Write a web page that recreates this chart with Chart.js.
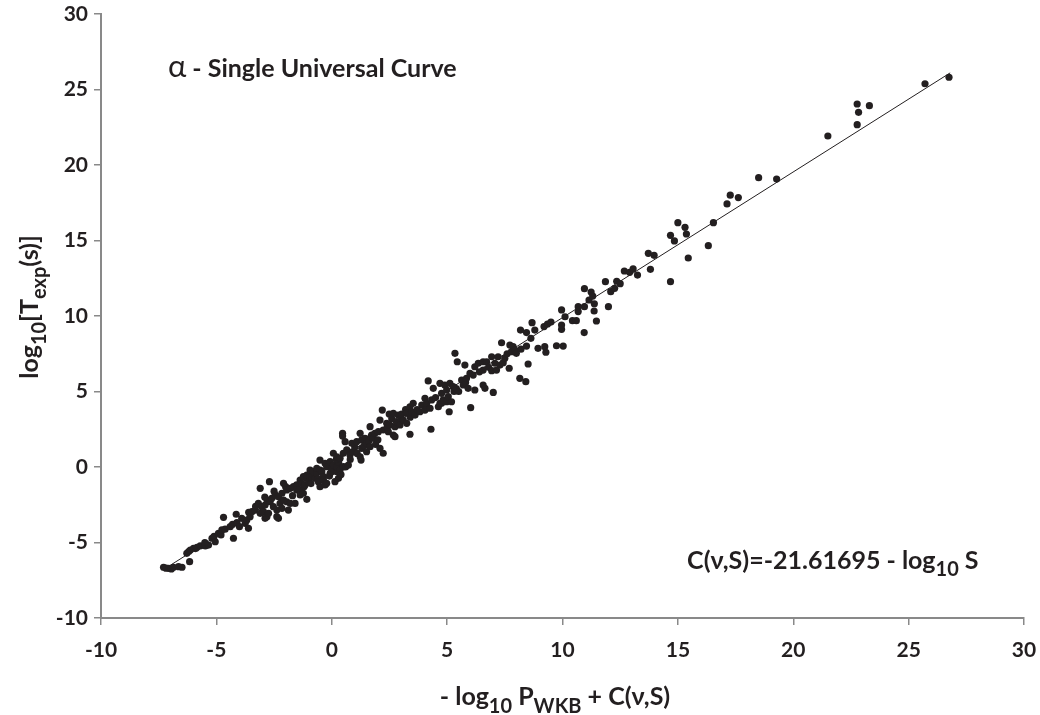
<!DOCTYPE html>
<html>
<head>
<meta charset="utf-8">
<title>alpha - Single Universal Curve</title>
<script src="https://cdn.jsdelivr.net/npm/chart.js@4.4.1/dist/chart.umd.min.js"></script>
<style>
  html, body { margin: 0; padding: 0; background: #fff; }
  #wrap { width: 1040px; height: 715px; position: relative; }
</style>
</head>
<body>
<div id="wrap"><canvas id="mainChart"></canvas></div>
<script>
// measured points: [-log10 P_WKB + C(v,S), log10 T_exp(s)]
const alphaPoints = [
  // bottom left
  [-7.29,-6.64],[-7.18,-6.70],[-7.07,-6.71],[-6.95,-6.75],[-6.86,-6.64],[-6.64,-6.60],[-6.49,-6.64],[-6.16,-6.27],
  [-6.28,-5.72],[-6.20,-5.60],[-6.13,-5.50],[-5.99,-5.38],[-5.90,-5.40],[-5.84,-5.32],[-5.70,-5.23],[-5.48,-5.23],
  [-5.34,-5.17],[-5.50,-5.00],[-5.19,-4.72],[-5.10,-4.60],[-5.05,-4.95],[-4.91,-4.39],[-4.80,-4.50],[-4.76,-4.17],
  [-4.62,-4.12],[-4.26,-4.72],[-4.69,-3.33],[-4.40,-3.95],[-4.30,-3.80],[-4.14,-3.13],[-4.11,-3.69],[-4.00,-3.95],
  [-3.90,-3.40],[-3.75,-3.73],[-3.61,-4.06],[-3.68,-3.51],[-3.60,-3.00],[-3.54,-3.29],[-3.46,-2.96],[-3.32,-2.85],
  [-3.30,-2.60],[-3.18,-2.40],[-3.10,-3.07],[-3.03,-2.63],[-2.96,-2.96],[-2.89,-2.52],[-2.89,-3.40],[-2.81,-3.29],
  [-2.74,-3.07],[-2.38,-3.29],[-2.31,-3.40],[-2.70,-0.97],[-3.10,-1.41],[-2.90,-2.00],[-2.80,-2.20],[-2.67,-2.30],
  [-2.60,-2.07],[-2.53,-2.63],[-2.50,-1.60],[-2.45,-1.85],[-2.38,-2.85],[-2.31,-1.97],[-2.24,-2.41],[-2.16,-1.74],
  [-2.16,-2.74],[-2.09,-2.19],[-2.09,-1.08],[-2.00,-1.30],[-1.95,-2.30],[-1.95,-1.52],[-1.88,-2.85],[-1.80,-2.41],
  [-1.80,-1.41],[-1.70,-1.90],[-1.66,-1.30],[-1.59,-2.41],[-1.52,-1.19],[-1.52,-1.52],[-1.40,-1.50],[-1.37,-1.85],
  // around zero
  [-1.37,-0.86],[-1.30,-1.08],[-1.23,-1.74],[-1.23,-0.64],[-1.20,-1.30],[-1.16,-1.19],[-1.08,-0.75],[-1.08,-0.53],
  [-1.08,-2.14],[-1.00,-1.00],[-0.94,-0.64],[-0.94,-0.20],[-0.90,-1.10],[-0.87,-0.64],[-0.80,-0.53],[-0.80,-0.31],
  [-0.72,-0.75],[-0.65,-0.42],[-0.65,-0.09],[-0.60,-0.80],[-0.58,-0.97],[-0.51,-1.30],[-0.51,0.46],[-0.50,-0.20],
  [-0.43,-0.31],[-0.36,-0.64],[-0.36,-0.86],[-0.29,-1.19],[-0.29,0.25],[-0.22,-1.08],[-0.22,0.02],[-0.10,-0.60],
  [-0.07,-0.42],[-0.07,0.35],[0.00,-0.31],[0.00,-0.10],[0.07,0.13],[0.14,-0.97],[0.22,-0.31],[0.22,0.02],
  [0.29,-0.75],[0.30,0.30],[0.36,-0.20],[0.40,-0.50],[0.50,0.02],[0.60,0.00],[0.72,0.13],[0.20,0.50],
  [0.07,0.91],[0.22,0.68],[0.36,0.58],[0.50,0.91],[0.65,1.13],[0.79,0.80],[0.80,0.50],[0.90,1.00],
  [1.00,1.30],[1.10,0.90],[1.23,0.68],[1.27,0.46],[0.47,2.23],[0.47,2.05],[0.58,1.68],[1.23,2.23],
  [0.87,1.57],[1.08,1.68],[1.30,1.79],[1.30,1.24],[1.40,1.40],[1.44,1.90],[1.51,1.57],[1.51,1.01],
  [1.60,1.70],[1.66,1.34],[1.66,2.67],[1.70,2.00],[1.73,2.12],[1.80,1.90],[1.87,2.23],[1.90,1.50],
  [2.00,1.80],[2.02,2.34],[2.09,1.24],[2.09,3.11],[2.19,3.77],[2.23,0.91],[2.23,2.45],[2.38,2.89],
  [2.40,2.60],[2.45,2.34],[2.49,3.51],[2.52,2.78],[2.60,3.20],[2.67,2.12],[2.67,3.56],[2.74,2.01],
  [2.74,2.67],[2.80,3.00],[2.88,3.44],[2.96,2.78],[3.00,3.20],[3.03,3.51],[3.10,3.11],[3.20,3.80],
  [3.25,2.89],[3.25,3.56],[3.39,2.17],[3.39,3.99],[3.40,3.30],[3.46,3.66],[3.53,4.22],[3.61,3.44],
  // middle
  [3.70,3.80],[3.82,3.66],[3.90,4.10],[4.04,3.77],[4.04,4.55],[4.11,3.99],[4.11,4.22],[4.18,5.70],
  [4.26,3.89],[4.30,2.50],[4.33,4.44],[4.40,5.21],[4.50,4.60],[4.62,3.99],[4.69,5.54],[4.69,4.22],
  [4.76,4.88],[4.76,4.22],[4.83,4.44],[4.90,5.43],[4.98,5.10],[4.98,4.32],[5.05,4.66],[5.09,3.66],
  [5.12,5.54],[5.19,4.32],[5.26,5.32],[5.30,5.00],[5.40,5.20],[5.50,5.00],[5.63,5.76],[5.70,5.43],
  [5.80,5.60],[5.84,5.87],[5.91,5.21],[5.99,6.20],[6.02,3.93],[6.13,6.09],[6.20,5.10],[6.56,5.43],
  [6.64,5.21],[5.34,7.53],[5.44,6.97],[5.77,6.75],[6.20,6.64],[6.35,6.87],[6.40,6.30],[6.56,6.97],
  [6.56,6.42],[6.71,6.97],[6.80,6.60],[6.93,7.30],[6.93,6.38],[7.00,4.94],[7.07,6.87],[7.14,6.42],
  [7.21,7.30],[7.29,6.75],[7.36,8.23],[7.43,6.91],[7.50,7.20],[7.60,7.50],[7.69,6.54],[7.72,8.08],
  [7.79,7.64],[7.86,7.97],[7.94,7.75],[8.00,7.53],[8.15,5.87],[8.18,9.07],[8.20,7.80],[8.41,5.65],
  [8.44,8.01],[8.44,8.90],[8.51,6.82],[8.63,8.52],[8.68,9.56],[8.80,9.07],[8.94,7.86],[9.20,9.30],
  [9.23,7.97],[9.28,7.60],[9.35,9.47],[9.50,9.60],[9.74,8.03],[9.96,9.12],[9.96,9.40],[9.96,10.40],
  [10.03,8.01],
  // upper right
  [10.11,9.95],[10.43,9.69],[10.60,9.69],[10.68,10.29],[10.68,10.62],[10.94,8.90],[10.95,10.62],[10.95,11.81],
  [11.15,11.06],[11.24,11.59],[11.31,11.32],[11.37,10.33],[11.38,10.81],[11.47,9.67],[11.86,12.27],[11.99,10.62],
  [12.09,11.61],[12.26,11.83],[12.35,12.30],[12.50,12.14],[12.68,12.98],[12.91,12.89],[13.06,13.13],[13.25,12.71],
  [13.72,14.15],[13.81,13.09],[13.97,14.02],[14.68,12.27],[14.68,15.34],[14.85,14.97],[15.00,16.18],[15.31,15.87],
  [15.37,15.43],[15.45,13.84],[16.32,14.66],[16.54,16.18],[17.13,17.42],[17.27,18.00],[17.62,17.84],[18.50,19.16],
  [19.28,19.07],[21.50,21.92],[22.77,24.04],[22.83,23.49],[22.77,22.67],[23.30,23.93],[25.71,25.38],[26.75,25.81]
];

// fitted line end points
const fitX = [-7.3, 26.8];
const fitY = [-6.8, 26.1];

const axisMin = -10;
const axisMax = 30;
const axisStep = 5;

const FONT = "Lato, 'DejaVu Sans', sans-serif";
const INK = "#231f20";
const AXIS = "#898989";

// text pieces: [text, kind]  kind: "" normal, "s" subscript, "g" greek
const titleRuns = [["\u03b1", "g"], [" - Single Universal Curve", ""]];
const noteRuns = [["C(\u03bd,S)=-21.61695 - log", ""], ["10", "s"], [" S", ""]];
const xTitleRuns = [["- log", ""], ["10", "s"], [" P", ""], ["WKB", "s"], [" + C(\u03bd,S)", ""]];
const yTitleRuns = [["log", ""], ["10", "s"], ["[T", ""], ["exp", "s"], ["(s)]", ""]];

function runFont(kind, size) {
  if (kind === "s") return "bold " + Math.round(size * 0.8) + "px " + FONT;
  if (kind === "g") return "normal " + Math.round(size * 1.25) + "px " + FONT;
  return "bold " + size + "px " + FONT;
}

function drawRich(ctx, runs, x, y, size, align) {
  let total = 0;
  const widths = runs.map(r => {
    ctx.font = runFont(r[1], size);
    const w = ctx.measureText(r[0]).width;
    total += w;
    return w;
  });
  let cx = align === "center" ? x - total / 2 : x;
  ctx.textAlign = "left";
  ctx.textBaseline = "alphabetic";
  ctx.fillStyle = INK;
  runs.forEach((r, i) => {
    ctx.font = runFont(r[1], size);
    const dy = r[1] === "s" ? size * 0.3 : 0;
    ctx.fillText(r[0], cx, y + dy);
    cx += widths[i];
  });
}

const textPlugin = {
  id: "textPlugin",
  afterDraw(chart) {
    const ctx = chart.ctx;
    const xs = chart.scales.x, ys = chart.scales.y;
    ctx.save();
    drawRich(ctx, titleRuns, xs.getPixelForValue(-7.1), ys.getPixelForValue(25.8), 25, "left");
    drawRich(ctx, noteRuns, xs.getPixelForValue(15.4), ys.getPixelForValue(-6.75), 25, "left");
    drawRich(ctx, xTitleRuns, 555, 705, 25, "center");
    ctx.translate(38, 307);
    ctx.rotate(-Math.PI / 2);
    drawRich(ctx, yTitleRuns, 0, 0, 25, "center");
    ctx.restore();
  }
};

const ctx = document.getElementById("mainChart");

new Chart(ctx, {
  type: "scatter",
  data: {
    datasets: [
      {
        label: "fit",
        type: "line",
        data: fitX.map((x, i) => ({ x: x, y: fitY[i] })),
        borderColor: INK,
        borderWidth: 1,
        pointRadius: 0,
        fill: false,
        order: 0
      },
      {
        label: "alpha decay",
        data: alphaPoints.map(p => ({ x: p[0], y: p[1] })),
        backgroundColor: INK,
        borderWidth: 0,
        pointRadius: 3.6,
        order: 1
      }
    ]
  },
  options: {
    responsive: true,
    maintainAspectRatio: false,
    animation: false,
    devicePixelRatio: 1,
    layout: { padding: { top: 14, right: 16, left: 0, bottom: 0 } },
    plugins: {
      legend: { display: false },
      tooltip: { enabled: false }
    },
    scales: {
      x: {
        type: "linear",
        min: axisMin,
        max: axisMax,
        ticks: { stepSize: axisStep, color: INK, padding: 13, font: { family: FONT, size: 21, weight: "bold" } },
        grid: { drawOnChartArea: false, drawTicks: true, tickLength: 7, color: AXIS, lineWidth: 1.5 },
        border: { color: AXIS, width: 2 },
        afterFit(scale) {
          scale.height = 97;
          scale.paddingLeft = 0;
          scale.paddingRight = 0;
        }
      },
      y: {
        type: "linear",
        min: axisMin,
        max: axisMax,
        ticks: { stepSize: axisStep, color: INK, padding: 6, font: { family: FONT, size: 21, weight: "bold" } },
        grid: { drawOnChartArea: false, drawTicks: true, tickLength: 7, color: AXIS, lineWidth: 1.5 },
        border: { color: AXIS, width: 2 },
        afterFit(scale) {
          scale.width = 101;
          scale.paddingTop = 0;
          scale.paddingBottom = 0;
        }
      }
    }
  },
  plugins: [textPlugin]
});
</script>
</body>
</html>
